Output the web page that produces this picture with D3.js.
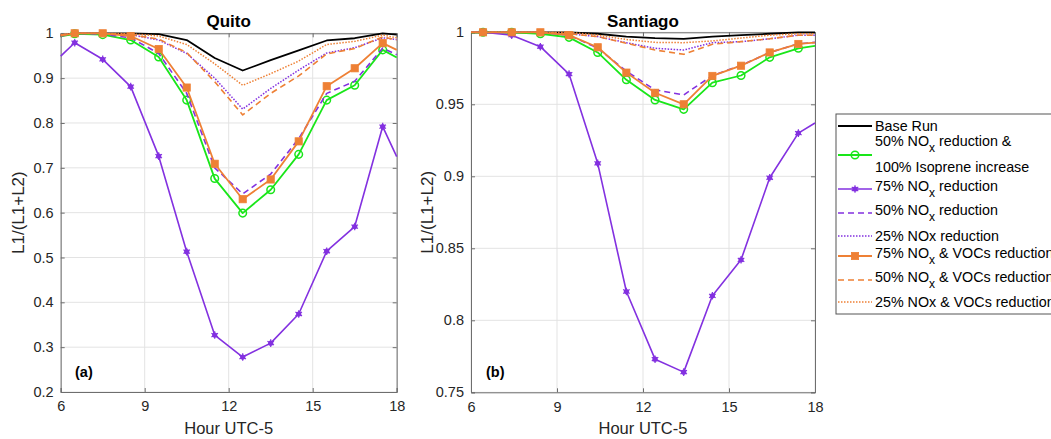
<!DOCTYPE html>
<html><head><meta charset="utf-8">
<script src="https://cdn.jsdelivr.net/npm/d3@7"></script>
<style>body{margin:0;background:#fff}svg{display:block}text{font-family:"Liberation Sans",Arial,sans-serif}</style>
</head><body><svg id="c" width="1051" height="439"></svg>
<script>
// ---------- data ----------
const quitoHours = [6, 6.5, 7.5, 8.5, 9.5, 10.5, 11.5, 12.5, 13.5, 14.5, 15.5, 16.5, 17.5, 18];
const quitoBase      = [0.995, 1.0, 1.0, 1.0, 0.998, 0.985, 0.945, 0.917, 0.940, 0.962, 0.984, 0.989, 1.0, 0.997];
const quitoIso       = [0.993, 0.999, 0.997, 0.985, 0.947, 0.851, 0.676, 0.599, 0.651, 0.730, 0.851, 0.884, 0.963, 0.946];
const quitoNox75     = [0.949, 0.979, 0.942, 0.881, 0.726, 0.513, 0.327, 0.278, 0.309, 0.374, 0.514, 0.569, 0.792, 0.725];
const quitoNox50     = [0.994, 1.0, 0.998, 0.990, 0.955, 0.866, 0.700, 0.642, 0.686, 0.765, 0.866, 0.893, 0.967, 0.952];
const quitoNox25     = [0.996, 1.0, 1.0, 0.997, 0.985, 0.955, 0.900, 0.831, 0.877, 0.918, 0.956, 0.968, 0.990, 0.986];
const quitoNoxVoc75  = [0.995, 1.0, 1.0, 0.994, 0.965, 0.879, 0.709, 0.630, 0.674, 0.759, 0.882, 0.922, 0.978, 0.963];
const quitoNoxVoc50  = [0.996, 1.0, 1.0, 0.997, 0.987, 0.957, 0.892, 0.818, 0.866, 0.905, 0.954, 0.966, 0.992, 0.985];
const quitoNoxVoc25  = [0.997, 1.0, 1.0, 0.999, 0.994, 0.975, 0.932, 0.884, 0.910, 0.938, 0.975, 0.982, 0.996, 0.990];

const santHours = [6, 6.42, 7.42, 8.42, 9.42, 10.42, 11.42, 12.42, 13.42, 14.42, 15.42, 16.42, 17.42, 18];
const santBase      = [1, 1, 1, 1, 1.0, 0.999, 0.997, 0.996, 0.9955, 0.997, 0.998, 0.999, 1.0, 1.0];
const santIso       = [1, 1, 1, 0.999, 0.9965, 0.986, 0.967, 0.953, 0.9465, 0.965, 0.970, 0.9826, 0.9889, 0.9905];
const santNox75     = [1, 1, 0.998, 0.990, 0.971, 0.909, 0.820, 0.773, 0.764, 0.817, 0.842, 0.899, 0.930, 0.937];
const santNox50     = [1, 1, 1, 1, 0.998, 0.989, 0.973, 0.960, 0.9565, 0.970, 0.977, 0.986, 0.992, 0.993];
const santNox25     = [1, 1, 1, 1, 0.999, 0.997, 0.9928, 0.9889, 0.9877, 0.9928, 0.9935, 0.9955, 0.998, 0.998];
const santNoxVoc75  = [1, 1, 1, 1, 0.998, 0.9896, 0.972, 0.958, 0.950, 0.9697, 0.9768, 0.986, 0.9919, 0.9928];
const santNoxVoc50  = [1, 1, 1, 1, 0.999, 0.997, 0.9924, 0.9877, 0.9847, 0.9917, 0.9935, 0.9955, 0.998, 0.998];
const santNoxVoc25  = [1, 1, 1, 1, 1.0, 0.998, 0.995, 0.993, 0.9928, 0.994, 0.996, 0.998, 0.999, 0.999];

const xTicks = [6, 9, 12, 15, 18];
const quitoYTicks = [0.2, 0.3, 0.4, 0.5, 0.6, 0.7, 0.8, 0.9, 1];
const santYTicks = [0.75, 0.8, 0.85, 0.9, 0.95, 1];

// ---------- styles ----------
const GREEN = "#19e619", PURPLE = "#8331e0", ORANGE = "#ee8035";
const styles = [
  {color: "#000", dash: null, w: 1.8, marker: null},
  {color: GREEN, dash: null, w: 1.8, marker: "circle"},
  {color: PURPLE, dash: null, w: 1.6, marker: "star"},
  {color: PURPLE, dash: "6,4", w: 1.6, marker: null},
  {color: PURPLE, dash: "1.5,1.5", w: 1.5, marker: null},
  {color: ORANGE, dash: null, w: 1.8, marker: "square"},
  {color: ORANGE, dash: "6,4", w: 1.6, marker: null},
  {color: ORANGE, dash: "1.5,1.5", w: 1.5, marker: null}
];

const svg = d3.select("#c");

function drawMarkers(g, pts, s) {
  pts.forEach(([px, py]) => {
    if (s.marker === "circle") {
      g.append("circle").attr("cx", px).attr("cy", py).attr("r", 3.8)
        .attr("fill", "none").attr("stroke", s.color).attr("stroke-width", 1.5);
    } else if (s.marker === "square") {
      g.append("rect").attr("x", px - 3.6).attr("y", py - 3.6).attr("width", 7.2).attr("height", 7.2)
        .attr("fill", s.color).attr("stroke", s.color).attr("stroke-width", 0.8);
    } else if (s.marker === "star") {
      g.append("circle").attr("cx", px).attr("cy", py).attr("r", 2.6).attr("fill", s.color);
      g.append("path").attr("transform", `translate(${px},${py})`)
        .attr("d", d3.symbol(d3.symbolAsterisk, 40)()).attr("stroke", s.color).attr("stroke-width", 1.2).attr("fill", "none");
    }
  });
}

function panel(cfg) {
  const x = d3.scaleLinear().domain([6, 18]).range([cfg.x0, cfg.x1]);
  const y = d3.scaleLinear().domain(cfg.yDomain).range([cfg.y0, cfg.y1]);
  const g = svg.append("g");
  g.selectAll(".gx").data(xTicks).join("line")
    .attr("x1", d => x(d)).attr("x2", d => x(d)).attr("y1", cfg.y0).attr("y2", cfg.y1)
    .attr("stroke", "#e3e3e3").attr("stroke-width", 1);
  g.selectAll(".gy").data(cfg.yTicks).join("line")
    .attr("x1", cfg.x0).attr("x2", cfg.x1).attr("y1", d => y(d)).attr("y2", d => y(d))
    .attr("stroke", "#e3e3e3").attr("stroke-width", 1);
  const ax = g.append("g").attr("transform", `translate(0,${cfg.y0})`)
    .call(d3.axisBottom(x).tickValues(xTicks).tickSize(-4).tickPadding(9).tickFormat(d3.format("d")));
  const axT = g.append("g").attr("transform", `translate(0,${cfg.y1})`)
    .call(d3.axisTop(x).tickValues(xTicks).tickSize(-4).tickFormat(""));
  const ay = g.append("g").attr("transform", `translate(${cfg.x0},0)`)
    .call(d3.axisLeft(y).tickValues(cfg.yTicks).tickSize(-4).tickPadding(7).tickFormat(d => String(d)));
  const ayR = g.append("g").attr("transform", `translate(${cfg.x1},0)`)
    .call(d3.axisRight(y).tickValues(cfg.yTicks).tickSize(-4).tickFormat(""));
  [ax, axT, ay, ayR].forEach(a => {
    a.selectAll("path").attr("stroke", "#6e6e6e").attr("stroke-width", 1);
    a.selectAll("line").attr("stroke", "#6e6e6e");
    a.selectAll("text").attr("fill", "#262626").attr("font-size", 14.5)
      .attr("font-family", '"Liberation Sans", Arial, sans-serif');
  });
  cfg.series.forEach((vals, i) => {
    const s = styles[i];
    const pts = cfg.hours.map((h, k) => [h, vals[k]]);
    g.append("path").datum(pts)
      .attr("d", d3.line().x(d => x(d[0])).y(d => y(d[1])))
      .attr("fill", "none").attr("stroke", s.color).attr("stroke-width", s.w)
      .attr("stroke-dasharray", s.dash).attr("stroke-linejoin", "round");
    if (s.marker) {
      const mp = pts.filter(d => d[0] > 6 && d[0] < 18);
      drawMarkers(g, mp.map(d => [x(d[0]), y(d[1])]), s);
    }
  });
  svg.append("text").attr("x", (cfg.x0 + cfg.x1) / 2).attr("y", 27).attr("text-anchor", "middle")
    .attr("font-weight", "bold").attr("font-size", 17).attr("fill", "#000").text(cfg.title);
  svg.append("text").attr("x", (cfg.x0 + cfg.x1) / 2).attr("y", 434).attr("text-anchor", "middle")
    .attr("font-size", 16.5).attr("fill", "#262626").text("Hour UTC-5");
  svg.append("text").attr("transform", `translate(${cfg.ylabX},${(cfg.y0 + cfg.y1) / 2}) rotate(-90)`)
    .attr("text-anchor", "middle").attr("dy", "0.35em").attr("font-size", 17).attr("fill", "#262626").text("L1/(L1+L2)");
  svg.append("text").attr("x", cfg.tagX).attr("y", 377).attr("font-weight", "bold").attr("font-size", 14.5)
    .attr("fill", "#000").text(cfg.tag);
}

panel({x0: 60.7, x1: 396.7, y0: 392, y1: 33.3, yDomain: [0.2, 1], yTicks: quitoYTicks, hours: quitoHours,
  series: [quitoBase, quitoIso, quitoNox75, quitoNox50, quitoNox25, quitoNoxVoc75, quitoNoxVoc50, quitoNoxVoc25],
  title: "Quito", ylabX: 18, tag: "(a)", tagX: 75});
panel({x0: 471, x1: 815, y0: 392.3, y1: 32.3, yDomain: [0.75, 1], yTicks: santYTicks, hours: santHours,
  series: [santBase, santIso, santNox75, santNox50, santNox25, santNoxVoc75, santNoxVoc50, santNoxVoc25],
  title: "Santiago", ylabX: 427, tag: "(b)", tagX: 486});

// ---------- legend ----------
const leg = svg.append("g");
leg.append("rect").attr("x", 836).attr("y", 114).attr("width", 240).attr("height", 200)
  .attr("fill", "#fff").attr("stroke", "#555").attr("stroke-width", 1);
const legRows = [
  {lineY: 126, texts: [{y: 126, parts: [["Base Run"]]}]},
  {lineY: 155, texts: [{y: 141, parts: [["50% NO"], ["x", true], [" reduction &"]]}, {y: 167, parts: [["100% Isoprene increase"]]}]},
  {lineY: 189, texts: [{y: 186, parts: [["75% NO"], ["x", true], [" reduction"]]}]},
  {lineY: 213, texts: [{y: 210, parts: [["50% NO"], ["x", true], [" reduction"]]}]},
  {lineY: 236, texts: [{y: 236, parts: [["25% NOx reduction"]]}]},
  {lineY: 256, texts: [{y: 253, parts: [["75% NO"], ["x", true], [" & VOCs reduction"]]}]},
  {lineY: 280, texts: [{y: 277, parts: [["50% NO"], ["x", true], [" & VOCs reduction"]]}]},
  {lineY: 302, texts: [{y: 302, parts: [["25% NOx & VOCs reduction"]]}]}
];
legRows.forEach((r, i) => {
  const s = styles[i];
  leg.append("line").attr("x1", 838).attr("x2", 872).attr("y1", r.lineY).attr("y2", r.lineY)
    .attr("stroke", s.color).attr("stroke-width", s.w).attr("stroke-dasharray", s.dash);
  if (s.marker) drawMarkers(leg, [[855, r.lineY]], s);
  r.texts.forEach(t => {
    const tx = leg.append("text").attr("x", 875).attr("y", t.y).attr("dy", "0.35em")
      .attr("font-size", 14.3).attr("fill", "#000");
    t.parts.forEach((p, k) => {
      if (p[1]) tx.append("tspan").attr("dy", 5.5).attr("font-size", 12).text(p[0]);
      else {
        const ts = tx.append("tspan").text(p[0]);
        if (k > 0) ts.attr("dy", -5.5);
      }
    });
  });
});
</script></body></html>
